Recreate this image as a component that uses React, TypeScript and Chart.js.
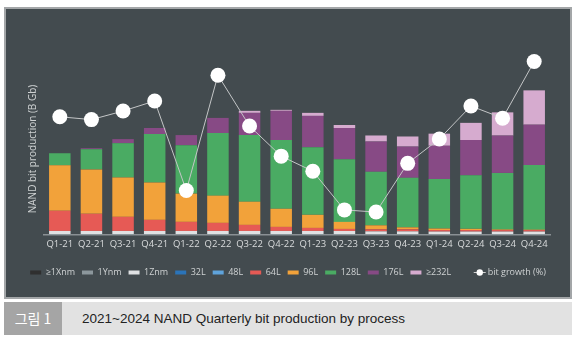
import React, { useEffect, useRef } from "react";
import { Chart, registerables } from "chart.js";

Chart.register(...registerables);

const categories = ["Q1-21","Q2-21","Q3-21","Q4-21","Q1-22","Q2-22","Q3-22","Q4-22","Q1-23","Q2-23","Q3-23","Q4-23","Q1-24","Q2-24","Q3-24","Q4-24"];

// NAND bit production (B Gb) by process
const nm1X = [0,0,0,0,0,0,0,0,0,0,0,0,0,0,0,0];
const nm1Y = [1,1,1,1,1,1,1,1,1,1,1,1,1,1,1,1];
const nm1Z = [3,3,3,3,3,3,3,3,3,3,2.6,2.6,2.4,2.4,2.4,2.4];
const l32 = [0,0,0,0,0,0,0,0,0,0,0,0,0,0,0,0];
const l48 = [0,0,0,0,0,0,0,0,0,0,0,0,0,0,0,0];
const l64 = [20,17,14,11,9,8,6,4,3,2,2,2,1.5,1.5,1.5,1.5];
const l96 = [45,44,39,37,28,27,23,18,13,7,4,2,1.5,1.2,0.6,0.4];
const l128 = [12,20,34,48,48,62,66,68,67,62,53,49,49,53,56,64];
const l176 = [0,1,4,6,10,15,22,29,31,31,30,31,33,35,37,40];
const l232 = [0,0,0,0,0,0,2,1,3,3,6,10,12,17,23,34];

// bit growth (%)
const bitGrowth = [6.5,6.1,7.3,8.7,-3.8,12.3,5.2,1.0,-1.1,-6.5,-6.8,0.0,3.4,8.0,6.3,14.2];

const barSeries = [
  { label: "\u22651Xnm", data: nm1X, color: "#2f2f2f" },
  { label: "1Ynm", data: nm1Y, color: "#8c979c" },
  { label: "1Znm", data: nm1Z, color: "#dfe1e3" },
  { label: "32L", data: l32, color: "#2b74b9" },
  { label: "48L", data: l48, color: "#5fa3db" },
  { label: "64L", data: l64, color: "#e65a55" },
  { label: "96L", data: l96, color: "#f2a23a" },
  { label: "128L", data: l128, color: "#4aab63" },
  { label: "176L", data: l176, color: "#874a85" },
  { label: "\u2265232L", data: l232, color: "#d6abcf" },
];

const FONT = "'Open Sans', 'DejaVu Sans', sans-serif";
const LEGEND_SIZE = 9;
const LINE_PREFIX = "\u00a0\u00a0\u00a0\u00a0\u00a0\u00a0";

const yTitlePlugin = {
  id: "yTitle",
  afterDraw(chart: any) {
    const ctx = chart.ctx;
    ctx.save();
    ctx.translate(27, 140);
    ctx.rotate(-Math.PI / 2);
    ctx.fillStyle = "#cfd2d3";
    ctx.font = `10px ${FONT}`;
    ctx.textAlign = "center";
    ctx.textBaseline = "middle";
    ctx.fillText("NAND bit production (B Gb)", 0, 0);
    ctx.restore();
  },
};

const legendLineSymbol = {
  id: "legendLineSymbol",
  afterDraw(chart: any) {
    const legend = chart.legend;
    if (!legend || !legend.legendItems) return;
    const ctx = chart.ctx;
    legend.legendItems.forEach((item: any, i: number) => {
      if (item.datasetIndex !== barSeries.length) return;
      const box = legend.legendHitBoxes[i];
      if (!box) return;
      ctx.save();
      ctx.font = `${LEGEND_SIZE}px ${FONT}`;
      const prefixW = ctx.measureText(LINE_PREFIX).width;
      const textStart = box.left + 11 + LEGEND_SIZE / 2 + prefixW;
      const x0 = textStart - 14;
      const x1 = textStart - 2;
      const cy = box.top + box.height / 2;
      ctx.strokeStyle = "#d0d0d0";
      ctx.lineWidth = 1;
      ctx.beginPath();
      ctx.moveTo(x0, cy);
      ctx.lineTo(x1, cy);
      ctx.stroke();
      ctx.fillStyle = "#ffffff";
      ctx.beginPath();
      ctx.arc((x0 + x1) / 2, cy, 3.2, 0, Math.PI * 2);
      ctx.fill();
      ctx.restore();
    });
  },
};

function ChartPanel() {
  const ref = useRef<HTMLCanvasElement | null>(null);
  useEffect(() => {
    if (!ref.current) return;
    const datasets: any[] = barSeries.map((s) => ({
      type: "bar",
      label: s.label,
      data: s.data,
      backgroundColor: s.color,
      borderWidth: 0,
      stack: "prod",
      yAxisID: "y",
      order: 1,
      barPercentage: 0.68,
      categoryPercentage: 1,
    }));
    datasets.push({
      type: "line",
      label: "bit growth (%)",
      data: bitGrowth,
      yAxisID: "y1",
      borderColor: "#c4c6c7",
      borderWidth: 1,
      backgroundColor: "#ffffff",
      pointBackgroundColor: "#ffffff",
      pointBorderColor: "#ffffff",
      pointBorderWidth: 0,
      pointRadius: 7.5,
      order: 0,
      tension: 0,
    });
    const chart = new Chart(ref.current, {
      type: "bar",
      data: { labels: categories, datasets },
      options: {
        animation: false,
        responsive: false,
        maintainAspectRatio: false,
        layout: { padding: { left: 0, right: 0, top: 11, bottom: 10 } },
        scales: {
          x: {
            stacked: true,
            grid: { display: false, drawTicks: false },
            border: { display: true, color: "#8a9094", width: 1.5 },
            ticks: { color: "#d9dbdc", font: { family: FONT, size: 9.5 }, padding: 4, maxRotation: 0, autoSkip: false },
            afterFit: (s: any) => { s.height = 26; },
          },
          y: {
            stacked: true,
            display: true,
            position: "left",
            min: 0,
            max: 213,
            ticks: { display: false },
            grid: { display: false, drawTicks: false },
            border: { display: false },
            afterFit: (s: any) => { s.width = 38; },
          },
          y1: {
            display: true,
            position: "right",
            min: -10,
            max: 20,
            ticks: { display: false },
            grid: { display: false, drawTicks: false },
            border: { display: false },
            afterFit: (s: any) => { s.width = 20; },
          },
        },
        plugins: {
          legend: {
            position: "bottom",
            labels: {
              color: "#cfd2d3",
              font: { family: FONT, size: LEGEND_SIZE },
              boxWidth: 11,
              boxHeight: 4,
              padding: 7,
              sort: (a: any, b: any) => a.datasetIndex - b.datasetIndex,
              generateLabels: (chart: any) => {
                const items = Chart.defaults.plugins.legend.labels.generateLabels(chart);
                items.forEach((it: any) => {
                  it.lineWidth = 0;
                  it.strokeStyle = "rgba(0,0,0,0)";
                  if (it.datasetIndex === barSeries.length) {
                    it.fillStyle = "rgba(0,0,0,0)";
                    it.text = LINE_PREFIX + it.text;
                  }
                });
                return items;
              },
            },
          },
          tooltip: { enabled: false },
        },
      },
      plugins: [yTitlePlugin, legendLineSymbol],
    } as any);
    return () => chart.destroy();
  }, []);
  return <canvas ref={ref} width={564} height={288} style={{ display: "block", width: 564, height: 288 }} />;
}

export default function App() {
  return (
    <div style={{ position: "absolute", left: 0, top: 0, width: 579, height: 344, background: "#ffffff" }}>
      <div
        style={{
          position: "absolute",
          left: 4,
          top: 7,
          width: 564,
          height: 288,
          background: "#434b4f",
          border: "2px solid #a3a6a8",
        }}
      >
        <ChartPanel />
      </div>
      <div style={{ position: "absolute", left: 4, top: 302, width: 568, height: 33, background: "#e2e2e2" }}>
        <div
          style={{
            position: "absolute",
            left: 0,
            top: 0,
            width: 58,
            height: 33,
            background: "#a5a5a5",
            color: "#ffffff",
            fontFamily: "'Noto Sans CJK KR', sans-serif",
            fontSize: 14,
            lineHeight: "33px",
            textAlign: "center",
            fontWeight: 400,
          }}
        >
          그림 1
        </div>
        <div
          style={{
            position: "absolute",
            left: 78,
            top: 0,
            height: 33,
            lineHeight: "33px",
            color: "#222222",
            fontFamily: "'Liberation Sans', Arial, sans-serif",
            fontSize: 13.5,
            whiteSpace: "nowrap",
          }}
        >
          2021~2024 NAND Quarterly bit production by process
        </div>
      </div>
    </div>
  );
}
